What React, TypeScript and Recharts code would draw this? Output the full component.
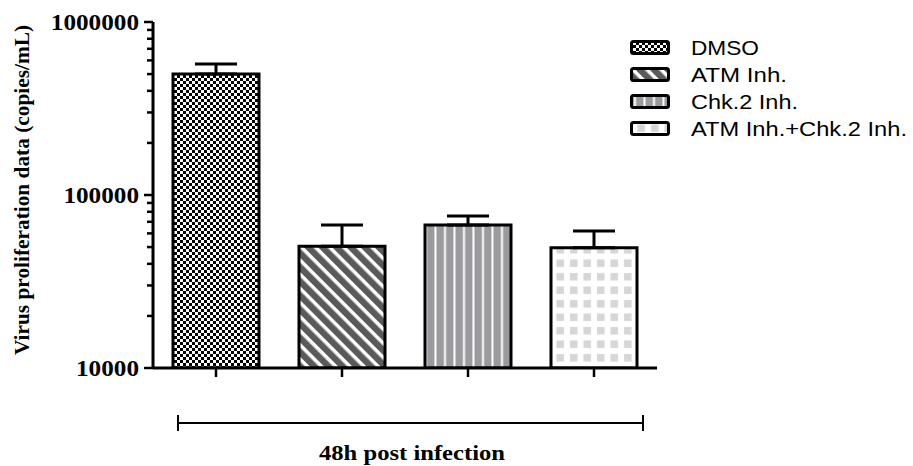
import React from "react";
import { Bar, BarChart, Cell, ErrorBar, XAxis, YAxis } from "recharts";

const groups = ["DMSO", "ATM Inh.", "Chk.2 Inh.", "ATM Inh.+Chk.2 Inh."];
const copies = [500000, 50500, 67000, 49500];
const sdUp = [72000, 16500, 8500, 12500];
const yTicks = [
  10000, 20000, 30000, 40000, 50000, 60000, 70000, 80000, 90000,
  100000, 200000, 300000, 400000, 500000, 600000, 700000, 800000, 900000,
  1000000
];
const majorTicks = [10000, 100000, 1000000];
const fills = ["url(#pDmso)", "url(#pAtm)", "url(#pChk)", "url(#pBoth)"];
// the source figure is slightly stretched sideways, so legend text is widened to match
const legendWidths = [68, 96, 107, 216];

const rows = groups.map((g, i) => ({
  group: g,
  copies: copies[i],
  err: [0, sdUp[i]]
}));

const serif = "'Liberation Serif', 'Times New Roman', serif";
const sans = "'Liberation Sans', Arial, sans-serif";

function YTick({ x, y, payload }: { x?: number; y?: number; payload?: { value: number } }) {
  const v = payload?.value ?? 0;
  const major = majorTicks.includes(v);
  const label = String(v);
  return (
    <g>
      <line x1={x! - (major ? 9 : 6)} x2={x} y1={y} y2={y} stroke="#000" strokeWidth={2.5} />
      {major && (
        <text
          x={x! - 14}
          y={y! + 8}
          textAnchor="end"
          fontFamily={serif}
          fontWeight="bold"
          fontSize={23}
          textLength={label.length * 12.6}
          lengthAdjust="spacingAndGlyphs"
          fill="#000"
        >
          {label}
        </text>
      )}
    </g>
  );
}

function Patterns() {
  return (
    <defs>
      <pattern id="pDmso" width={6} height={6} patternUnits="userSpaceOnUse">
        <rect width={6} height={6} fill="#fff" />
        <rect width={3} height={3} fill="#000" />
        <rect x={3} y={3} width={3} height={3} fill="#000" />
      </pattern>
      <pattern id="pAtm" width={10} height={10} patternUnits="userSpaceOnUse" patternTransform="rotate(-45)">
        <rect width={10} height={10} fill="#fff" />
        <rect width={6.5} height={10} fill="#5a5a5a" />
      </pattern>
      <pattern id="pChk" width={9.5} height={10} patternUnits="userSpaceOnUse">
        <rect width={9.5} height={10} fill="#9b9b9f" />
        <rect x={7} width={2} height={10} fill="#fff" />
      </pattern>
      <pattern id="pBoth" width={13.5} height={13.5} patternUnits="userSpaceOnUse">
        <rect width={13.5} height={13.5} fill="#fff" />
        <rect x={3} y={3} width={7.5} height={7.5} fill="#d6d6d6" />
      </pattern>
    </defs>
  );
}

function Legend() {
  return (
    <svg width={913} height={466} style={{ position: "absolute", left: 0, top: 0, pointerEvents: "none" }}>
      {groups.map((g, i) => {
        const y = 47.5 + i * 27;
        return (
          <g key={g}>
            <rect x={631.5} y={y - 6} width={37} height={12} rx={2} fill={fills[i]} stroke="#000" strokeWidth={3} />
            <text
              x={691}
              y={y + 7.5}
              fontFamily={sans}
              fontSize={21}
              textLength={legendWidths[i]}
              lengthAdjust="spacingAndGlyphs"
              fill="#000"
            >
              {g}
            </text>
          </g>
        );
      })}
      {/* group bracket under the x axis */}
      <line x1={178} x2={643} y1={423} y2={423} stroke="#000" strokeWidth={2} />
      <line x1={178} x2={178} y1={415} y2={431} stroke="#000" strokeWidth={2} />
      <line x1={643} x2={643} y1={415} y2={431} stroke="#000" strokeWidth={2} />
      <text
        x={412}
        y={460}
        textAnchor="middle"
        fontFamily={serif}
        fontWeight="bold"
        fontSize={21}
        textLength={186}
        lengthAdjust="spacingAndGlyphs"
      >
        48h post infection
      </text>
      <text
        transform="translate(29,190) rotate(-90)"
        textAnchor="middle"
        fontFamily={serif}
        fontWeight="bold"
        fontSize={21}
        textLength={330}
        lengthAdjust="spacingAndGlyphs"
      >
        Virus proliferation data (copies/mL)
      </text>
    </svg>
  );
}

export default function App() {
  return (
    <div style={{ position: "absolute", left: 0, top: 0, width: 913, height: 466, background: "#fff" }}>
      <BarChart
        width={913}
        height={466}
        data={rows}
        margin={{ top: 22, right: 256, bottom: 68, left: 3 }}
        barSize={86}
      >
        <Patterns />
        <XAxis
          dataKey="group"
          axisLine={{ stroke: "#000", strokeWidth: 3 }}
          tickLine={{ stroke: "#000", strokeWidth: 2.5 }}
          tickSize={9}
          tick={() => <g />}
          height={30}
        />
        <YAxis
          scale="log"
          domain={[10000, 1000000]}
          allowDataOverflow
          ticks={yTicks}
          interval={0}
          width={150}
          axisLine={{ stroke: "#000", strokeWidth: 3 }}
          tickLine={false}
          tickSize={0}
          tickMargin={0}
          tick={<YTick />}
        />
        <Bar dataKey="copies" isAnimationActive={false} stroke="#000" strokeWidth={3}>
          {rows.map((r, i) => (
            <Cell key={r.group} fill={fills[i]} stroke="#000" strokeWidth={3} />
          ))}
          <ErrorBar dataKey="err" width={21} stroke="#000" strokeWidth={3} direction="y" />
        </Bar>
      </BarChart>
      <Legend />
    </div>
  );
}
